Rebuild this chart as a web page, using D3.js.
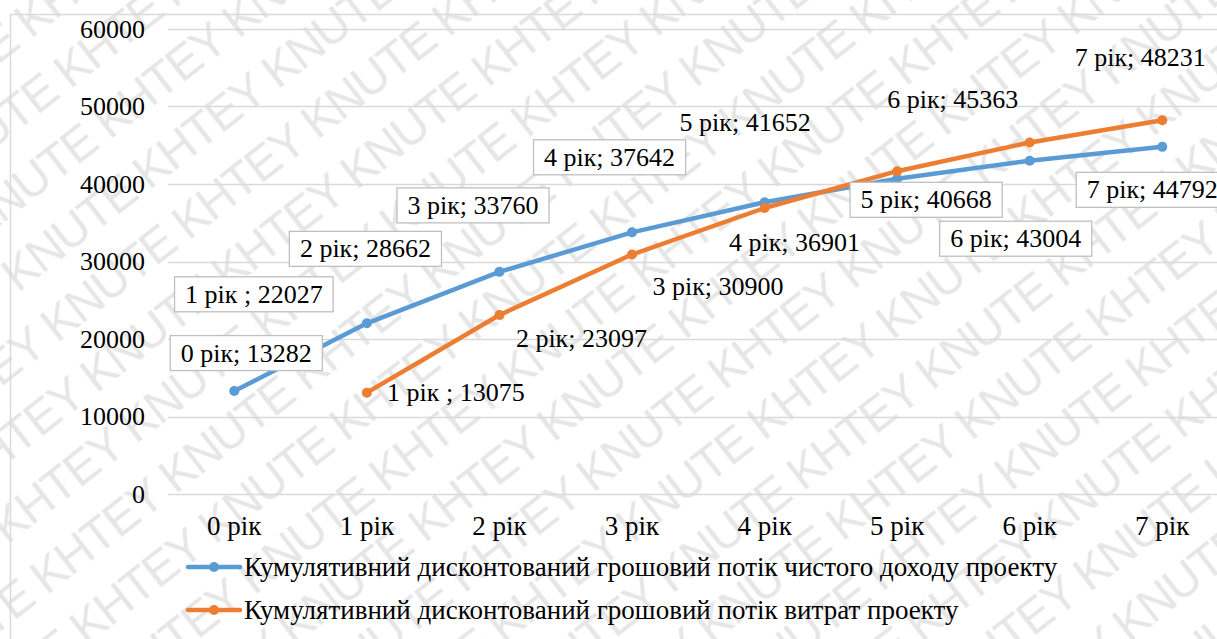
<!DOCTYPE html>
<html>
<head>
<meta charset="utf-8">
<script src="https://cdn.jsdelivr.net/npm/d3@7"></script>
</head>
<body style="margin:0">
<script>
const width = 1217;
const height = 639;
const serif = "'Liberation Serif'";

// data
const years = ["0 рік", "1 рік", "2 рік", "3 рік", "4 рік", "5 рік", "6 рік", "7 рік"];
const incomeFlow = [13282, 22027, 28662, 33760, 37642, 40668, 43004, 44792];
const costFlow = [null, 13075, 23097, 30900, 36901, 41652, 45363, 48231];
const incomeLabels = ["0 рік; 13282", "1 рік ; 22027", "2 рік; 28662", "3 рік; 33760",
    "4 рік; 37642", "5 рік; 40668", "6 рік; 43004", "7 рік; 44792"];
const costLabels = [null, "1 рік ; 13075", "2 рік; 23097", "3 рік; 30900",
    "4 рік; 36901", "5 рік; 41652", "6 рік; 45363", "7 рік; 48231"];
const seriesNames = [
    "Кумулятивний дисконтований грошовий потік чистого доходу проекту",
    "Кумулятивний дисконтований грошовий потік витрат проекту"
];
const yTicks = [0, 10000, 20000, 30000, 40000, 50000, 60000];

// label placement relative to point (px)
const incomeOffsets = [[12, -38], [-113, -29], [-134, -23], [-159, -27], [-155, -45], [29, 21], [-14, 78], [-10, 43]];
const costOffsets = [null, [89, 0], [82, 23], [86, 32], [30, 34], [-152, -49], [-77, -43], [-22, -63]];

const colors = ["#5b9bd5", "#ed7d31"];

const svg = d3.select("body").append("svg")
    .attr("width", width)
    .attr("height", height);

// watermark + border
const pat = svg.append("defs").append("pattern")
    .attr("id", "wm")
    .attr("patternUnits", "userSpaceOnUse")
    .attr("width", 330).attr("height", 64)
    .attr("patternTransform", "rotate(-38)");
pat.append("text")
    .attr("x", 0).attr("y", 50)
    .attr("fill", "#e6e6e6")
    .style("font-family", "'Liberation Sans'")
    .attr("font-size", 48)
    .attr("textLength", 320)
    .text("KHTEY KNUTE");
svg.append("rect").attr("width", width).attr("height", height).attr("fill", "url(#wm)");
svg.append("rect")
    .attr("x", 10.5).attr("y", 14.5)
    .attr("width", 1240).attr("height", 700)
    .attr("fill", "none")
    .attr("stroke", "#d9d9d9").attr("stroke-width", 1.5);

const plotLeft = 168, bandW = 132.57;
const x = d3.scaleBand().domain(years).range([plotLeft, plotLeft + bandW * years.length]);
const y = d3.scaleLinear().domain([0, 60000]).range([494, 29]);
const cx = d => x(d) + x.bandwidth() / 2;

function serifText(sel, size) {
    return sel.style("font-family", serif)
        .attr("font-size", size)
        .attr("fill", "#000");
}

// gridlines
svg.append("g").selectAll("line")
    .data(yTicks).enter().append("line")
    .attr("x1", plotLeft).attr("x2", plotLeft + bandW * years.length)
    .attr("y1", d => Math.round(y(d)) + 0.5).attr("y2", d => Math.round(y(d)) + 0.5)
    .attr("stroke", "#d9d9d9").attr("stroke-width", 1.3);

// y axis
const yAxis = d3.axisLeft(y).tickValues(yTicks).tickSize(0).tickPadding(0).tickFormat(d3.format("d"));
const gy = svg.append("g").attr("transform", "translate(145,0)").call(yAxis);
gy.select(".domain").remove();
serifText(gy.selectAll("text"), 26);

// x axis
const xAxis = d3.axisBottom(x).tickSize(0).tickPadding(0);
const gx = svg.append("g").attr("transform", "translate(0,516)").call(xAxis);
gx.select(".domain").remove();
serifText(gx.selectAll("text"), 27);

const line = d3.line()
    .defined(d => d.v != null)
    .x(d => cx(d.k))
    .y(d => y(d.v));

const series = [incomeFlow, costFlow].map(arr => arr.map((v, i) => ({ k: years[i], v: v })));

series.forEach((s, si) => {
    svg.append("path")
        .datum(s)
        .attr("d", line)
        .attr("fill", "none")
        .attr("stroke", colors[si])
        .attr("stroke-width", 4.5)
        .attr("stroke-linejoin", "round");
    svg.append("g").selectAll("circle")
        .data(s.filter(d => d.v != null)).enter().append("circle")
        .attr("cx", d => cx(d.k)).attr("cy", d => y(d.v))
        .attr("r", 5).attr("fill", colors[si]);
});

// data labels (boxes are measured once fonts are ready)
const boxed = [];
function addLabels(vals, labels, offsets, withBox) {
    vals.forEach((v, i) => {
        if (v == null) return;
        const px = cx(years[i]) + offsets[i][0];
        const py = y(v) + offsets[i][1];
        const g = svg.append("g");
        const t = serifText(g.append("text"), 26)
            .attr("x", px).attr("y", py)
            .attr("text-anchor", "middle")
            .attr("dy", "0.33em")
            .text(labels[i]);
        if (withBox) boxed.push({ g: g, t: t, px: px, py: py });
    });
}
addLabels(incomeFlow, incomeLabels, incomeOffsets, true);
addLabels(costFlow, costLabels, costOffsets, false);

// legend
const legend = svg.append("g");
seriesNames.forEach((name, i) => {
    const ly = 567 + i * 43;
    legend.append("line")
        .attr("x1", 188).attr("x2", 240).attr("y1", ly).attr("y2", ly)
        .attr("stroke", colors[i]).attr("stroke-width", 4.5).attr("stroke-linecap", "round");
    legend.append("circle").attr("cx", 214).attr("cy", ly).attr("r", 5).attr("fill", colors[i]);
    serifText(legend.append("text"), 27)
        .attr("x", 244).attr("y", ly)
        .attr("dy", "0.33em")
        .text(name);
});

document.fonts.ready.then(() => {
    boxed.forEach(b => {
        const w = b.t.node().getComputedTextLength();
        b.g.insert("rect", "text")
            .attr("x", b.px - w / 2 - 10.5).attr("y", b.py - 17.5)
            .attr("width", w + 21).attr("height", 35)
            .attr("fill", "#fff")
            .attr("stroke", "#bfbfbf").attr("stroke-width", 1.3);
    });
});
</script>
</body>
</html>
